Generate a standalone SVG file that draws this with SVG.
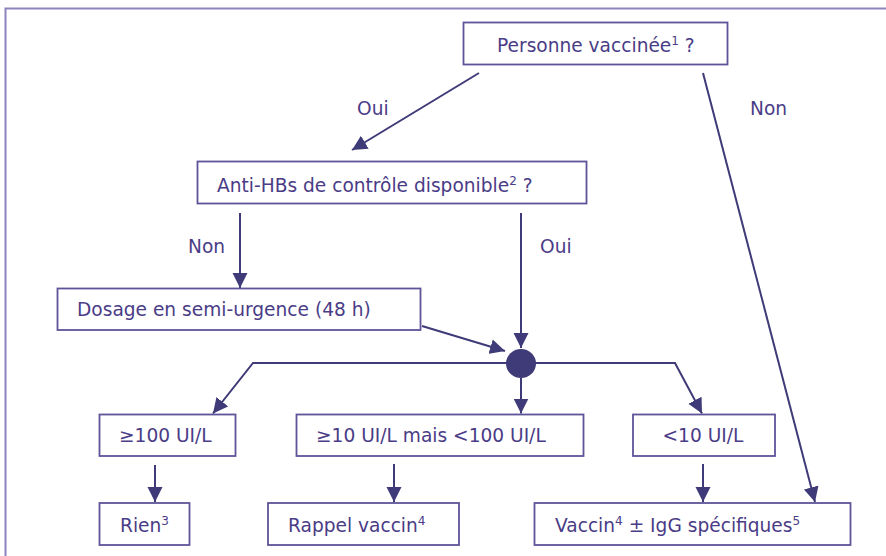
<svg xmlns="http://www.w3.org/2000/svg" width="886" height="556" viewBox="0 0 886 556">
<defs>
<style>
.frame{fill:none;stroke:#8c83bd;stroke-width:2}
.box{fill:#fff;stroke:#5e5499;stroke-width:1.8}
.t{font-family:"DejaVu Sans",Verdana,sans-serif;font-size:18.6px;fill:#4a3c86}
.lbl{font-family:"DejaVu Sans",Verdana,sans-serif;font-size:18.6px;fill:#4a3c86}
.sup{font-size:12px}
.c{fill:none;stroke:#3f3a78;stroke-width:2}
</style>
<marker id="ah" markerUnits="userSpaceOnUse" markerWidth="16" markerHeight="16" refX="15" refY="7.5" orient="auto" viewBox="0 0 16 15">
<path d="M0,0 L15,7.5 L0,15 z" fill="#3f3a78"/>
</marker>
</defs>
<rect class="frame" x="5.5" y="8.5" width="900" height="600"/>
<g id="connectors">
<line class="c" x1="479" y1="73" x2="352" y2="150" marker-end="url(#ah)"/>
<line class="c" x1="703" y1="73" x2="815" y2="502" marker-end="url(#ah)"/>
<line class="c" x1="240" y1="213" x2="240" y2="288" marker-end="url(#ah)"/>
<line class="c" x1="521" y1="213" x2="521" y2="348" marker-end="url(#ah)"/>
<line class="c" x1="422" y1="326" x2="505" y2="351" marker-end="url(#ah)"/>
<polyline class="c" points="521,363 253,363 213,413.5" marker-end="url(#ah)"/>
<line class="c" x1="521" y1="378" x2="521" y2="413.5" marker-end="url(#ah)"/>
<polyline class="c" points="521,363 675,363 702,413.5" marker-end="url(#ah)"/>
<line class="c" x1="155" y1="465" x2="155" y2="502" marker-end="url(#ah)"/>
<line class="c" x1="394" y1="464" x2="394" y2="502" marker-end="url(#ah)"/>
<line class="c" x1="703" y1="464" x2="703" y2="502" marker-end="url(#ah)"/>
<text class="lbl" x="357" y="115">Oui</text>
<text class="lbl" x="750" y="115">Non</text>
<text class="lbl" x="188" y="253">Non</text>
<text class="lbl" x="540" y="253">Oui</text>
</g>
<g id="n-vaccinee">
<rect class="box" x="463.5" y="22.5" width="264" height="42"/>
<text class="t" x="497" y="52">Personne vaccinée<tspan class="sup" dy="-7">1</tspan><tspan dy="7"> ?</tspan></text>
</g>
<g id="n-antihbs">
<rect class="box" x="197.5" y="161.5" width="389" height="42"/>
<text class="t" x="217" y="192">Anti-HBs de contrôle disponible<tspan class="sup" dy="-7">2</tspan><tspan dy="7"> ?</tspan></text>
</g>
<g id="n-dosage">
<rect class="box" x="57.5" y="288.5" width="363" height="41.5"/>
<text class="t" x="77" y="316">Dosage en semi-urgence (48 h)</text>
</g>
<g id="n-dot">
<ellipse cx="521" cy="363.5" rx="15" ry="14.5" fill="#3f3a78"/>
</g>
<g id="n-ge100">
<rect class="box" x="99.5" y="414.5" width="136" height="41.5"/>
<text class="t" x="119" y="442">≥100 UI/L</text>
</g>
<g id="n-ge10">
<rect class="box" x="296.5" y="414.5" width="287" height="41.5"/>
<text class="t" x="316" y="442">≥10 UI/L mais &lt;100 UI/L</text>
</g>
<g id="n-lt10">
<rect class="box" x="633" y="414.5" width="142" height="41.5"/>
<text class="t" x="662.5" y="442">&lt;10 UI/L</text>
</g>
<g id="n-rien">
<rect class="box" x="99.5" y="503" width="90" height="42"/>
<text class="t" x="120" y="532">Rien<tspan class="sup" dy="-7">3</tspan></text>
</g>
<g id="n-rappel">
<rect class="box" x="268" y="503" width="191" height="42"/>
<text class="t" x="288" y="532">Rappel vaccin<tspan class="sup" dy="-7">4</tspan></text>
</g>
<g id="n-vaccin">
<rect class="box" x="534.5" y="503" width="316" height="42"/>
<text class="t" x="555" y="532">Vaccin<tspan class="sup" dy="-7">4</tspan><tspan dy="7"> ± IgG spécifiques</tspan><tspan class="sup" dy="-7">5</tspan></text>
</g>
</svg>
